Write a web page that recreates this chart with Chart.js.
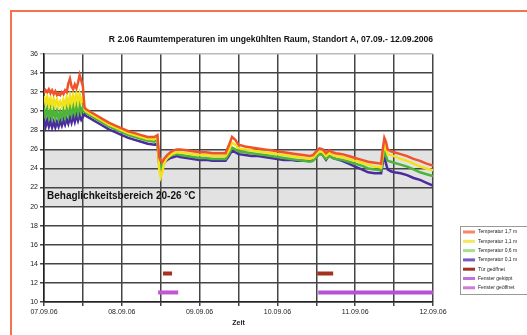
<!DOCTYPE html>
<html>
<head>
<meta charset="utf-8">
<title>Raumtemperaturen</title>
<style>
  html, body { margin: 0; padding: 0; background: #fff; overflow: hidden; }
  #frame { position: absolute; left: 10px; top: 10px; width: 560px; height: 400px;
           border-left: 2px solid #f3744a; border-top: 2px solid #f3744a; }
  #wrap { position: absolute; left: 0; top: 0; width: 527px; height: 335px; }
</style>
</head>
<body>
<div id="frame"></div>
<div id="wrap"><canvas id="myChart" width="527" height="335"></canvas></div>
<script src="https://cdn.jsdelivr.net/npm/chart.js@4.4.0/dist/chart.umd.min.js"></script>
<script>
const chartTitle = 'R 2.06 Raumtemperaturen im ungekühlten Raum, Standort A, 07.09.- 12.09.2006';
const xTickLabels = ['07.09.06', '08.09.06', '09.09.06', '10.09.06', '11.09.06', '12.09.06'];
const comfortLabel = 'Behaglichkeitsbereich 20-26 °C';
const comfortRange = [20, 26];

// hours since 07.09.06 00:00
const hours = [
  0, 0.5, 1, 1.5, 2, 2.5, 3, 3.5, 4, 4.5, 5, 5.5, 6, 6.5, 7, 7.5, 8, 8.5, 9, 9.5, 10, 10.5, 11, 11.5, 12,
  12.5, 13, 14, 16, 18, 20, 22, 24, 26, 28, 30, 32, 34, 35,
  35.5, 36, 36.5, 37, 38, 39, 40, 41,
  42, 44, 46, 48, 50, 52, 54, 56, 57, 58, 59, 60, 62,
  64, 66, 68, 70, 72, 74, 76, 78, 80, 82, 83,
  84, 85, 86, 87, 88, 89, 90,
  92, 94, 96, 98, 100, 102, 104,
  104.5, 105, 105.5, 106, 107, 108,
  110, 112, 114, 116, 118, 120
];

const temp17 = [
  31.9, 32.2, 32.0, 32.3, 31.9, 32.2, 31.8, 32.1, 31.7, 31.9, 31.7, 32.0, 31.8, 32.2, 32.0, 32.9, 33.4, 32.6, 32.3, 32.8, 32.4, 33.0, 33.8, 33.2, 32.6,
  30.4, 30.2, 30.0, 29.6, 29.2, 28.8, 28.5, 28.2, 27.9, 27.7, 27.5, 27.3, 27.3, 27.5,
  25.2, 24.8, 24.7, 25.0, 25.4, 25.7, 25.9, 26.0,
  26.0, 25.9, 25.8, 25.7, 25.7, 25.6, 25.6, 25.6, 26.4, 27.3, 27.0, 26.5, 26.3,
  26.2, 26.1, 26.0, 25.9, 25.8, 25.7, 25.6, 25.5, 25.4, 25.3, 25.4,
  25.8, 26.1, 26.0, 25.6, 25.9, 25.7, 25.6,
  25.5, 25.3, 25.1, 24.9, 24.7, 24.6, 24.5,
  26.0, 27.2, 26.8, 26.0, 25.8, 25.7,
  25.5, 25.3, 25.0, 24.8, 24.5, 24.3
];
const temp11 = [
  31.6, 30.8, 31.5, 30.7, 31.4, 30.6, 31.3, 30.6, 31.2, 30.5, 31.0, 30.5, 31.2, 30.6, 31.4, 30.7, 31.6, 30.8, 31.7, 30.9, 31.8, 30.9, 31.8, 31.0, 31.5,
  30.2, 30.0, 29.8, 29.4, 29.0, 28.6, 28.3, 28.0, 27.7, 27.5, 27.3, 27.1, 27.1, 27.3,
  24.0, 23.1, 23.6, 24.5, 25.1, 25.4, 25.6, 25.7,
  25.7, 25.6, 25.5, 25.4, 25.4, 25.3, 25.3, 25.3, 25.9, 26.7, 26.5, 26.1, 26.0,
  25.9, 25.8, 25.7, 25.6, 25.5, 25.4, 25.3, 25.2, 25.1, 25.0, 25.1,
  25.5, 25.8, 25.7, 25.3, 25.6, 25.4, 25.3,
  25.2, 25.0, 24.8, 24.6, 24.4, 24.2, 24.1,
  25.5, 26.5, 26.0, 25.5, 25.4, 25.3,
  25.0, 24.8, 24.5, 24.2, 24.0, 23.8
];
const temp06 = [
  30.4, 29.5, 30.3, 29.4, 30.2, 29.3, 30.1, 29.3, 30.0, 29.2, 29.9, 29.3, 30.1, 29.4, 30.3, 29.6, 30.5, 29.7, 30.6, 29.8, 30.6, 29.8, 30.7, 29.9, 30.4,
  30.0, 29.8, 29.6, 29.2, 28.8, 28.4, 28.1, 27.8, 27.5, 27.3, 27.1, 26.9, 26.8, 27.0,
  24.6, 24.0, 24.3, 24.7, 25.1, 25.3, 25.5, 25.5,
  25.4, 25.3, 25.2, 25.1, 25.1, 25.0, 25.0, 25.0, 25.5, 26.2, 26.0, 25.8, 25.7,
  25.6, 25.5, 25.4, 25.3, 25.2, 25.1, 25.0, 24.9, 24.8, 24.7, 24.8,
  25.2, 25.5, 25.4, 25.0, 25.3, 25.1, 25.0,
  24.9, 24.7, 24.5, 24.3, 24.0, 23.9, 23.8,
  25.0, 25.9, 25.3, 24.8, 24.7, 24.6,
  24.4, 24.2, 23.9, 23.6, 23.4, 23.2
];
const temp01 = [
  29.2, 28.4, 29.1, 28.4, 29.0, 28.3, 28.9, 28.3, 28.9, 28.4, 29.0, 28.5, 29.1, 28.6, 29.2, 28.7, 29.4, 28.8, 29.5, 28.9, 29.6, 29.0, 29.6, 29.1, 29.4,
  29.7, 29.5, 29.3, 28.9, 28.5, 28.1, 27.8, 27.5, 27.2, 27.0, 26.8, 26.6, 26.5, 26.6,
  24.6, 24.1, 24.3, 24.6, 24.9, 25.1, 25.2, 25.3,
  25.2, 25.1, 25.0, 24.9, 24.9, 24.8, 24.8, 24.8, 25.3, 25.9, 25.7, 25.5, 25.4,
  25.3, 25.3, 25.2, 25.1, 25.0, 24.9, 24.9, 24.8, 24.8, 24.8, 24.9,
  25.2, 25.6, 25.4, 24.9, 25.4, 25.1, 25.0,
  24.8, 24.5, 24.2, 23.9, 23.6, 23.5, 23.5,
  24.6, 25.4, 24.5, 23.9, 23.7, 23.6,
  23.5, 23.3, 23.0, 22.8, 22.5, 22.2
];

// status markers: [from hour, to hour], drawn at a fixed level
const tuerOffen = [[36.7, 39.5], [84.3, 89.2]];
const fensterGekippt = [[84.6, 120]];
const fensterOffen = [[35.2, 41.4]];
const tuerLevel = 13;
const fensterLevel = 11;

function series(vals) {
  return hours.map((h, i) => ({ x: h, y: vals[i] }));
}
function spans(list, level) {
  const out = [];
  list.forEach((s, i) => {
    if (i) out.push({ x: (list[i - 1][1] + s[0]) / 2, y: null });
    out.push({ x: s[0], y: level }, { x: s[1], y: level });
  });
  return out;
}

const FONT = '"Liberation Sans", Arial, sans-serif';

const extras = {
  id: 'extras',
  beforeDraw(chart) {
    const { ctx, chartArea: a, scales: { y } } = chart;
    const top = y.getPixelForValue(comfortRange[1]);
    const bot = y.getPixelForValue(comfortRange[0]);
    ctx.save();
    ctx.fillStyle = '#e2e2e2';
    ctx.fillRect(a.left, top, a.right - a.left, bot - top);
    ctx.restore();
  },
  afterDraw(chart) {
    const { ctx, chartArea: a, scales: { y } } = chart;
    ctx.save();
    // title
    ctx.fillStyle = '#111';
    ctx.font = 'bold 8.6px ' + FONT;
    ctx.textAlign = 'center';
    ctx.textBaseline = 'middle';
    ctx.fillText(chartTitle, 271, 40);
    // comfort label
    ctx.font = 'bold 10px ' + FONT;
    ctx.textAlign = 'left';
    ctx.fillText(comfortLabel, a.left + 3, y.getPixelForValue(21.1));
    // legend
    const lx = 460, ly = 226;
    ctx.fillStyle = '#fff';
    ctx.fillRect(lx, ly, 90, 68);
    ctx.strokeStyle = '#999';
    ctx.lineWidth = 1;
    ctx.strokeRect(lx + 0.5, ly + 0.5, 90, 68);
    ctx.font = '5px ' + FONT;
    chart.data.datasets.forEach((ds, i) => {
      const ry = ly + 6 + i * 9.3;
      ctx.strokeStyle = ds.legendColor || ds.borderColor;
      ctx.lineWidth = 3;
      ctx.beginPath();
      ctx.moveTo(lx + 3, ry);
      ctx.lineTo(lx + 15, ry);
      ctx.stroke();
      ctx.fillStyle = '#222';
      ctx.fillText(ds.label, lx + 18, ry);
    });
    ctx.restore();
  }
};

const ctx = document.getElementById('myChart').getContext('2d');
const chart = new Chart(ctx, {
  type: 'line',
  data: {
    datasets: [
      { label: 'Temperatur 1,7 m', data: series(temp17), borderColor: '#f0522a', legendColor: '#f4886a', borderWidth: 2.5 },
      { label: 'Temperatur 1,1 m', data: series(temp11), borderColor: '#f2e21a', legendColor: '#f4e85a', borderWidth: 2.5 },
      { label: 'Temperatur 0,6 m', data: series(temp06), borderColor: '#4db43a', legendColor: '#a6e08a', borderWidth: 2.5 },
      { label: 'Temperatur 0,1 m', data: series(temp01), borderColor: '#4a2c9e', legendColor: '#7a58c8', borderWidth: 2.5 },
      { label: 'Tür geöffnet', data: spans(tuerOffen, tuerLevel), borderColor: '#a3321f', borderWidth: 4, borderCapStyle: 'butt' },
      { label: 'Fenster gekippt', data: spans(fensterGekippt, fensterLevel), borderColor: '#b652d6', legendColor: '#c070e0', borderWidth: 4, borderCapStyle: 'butt' },
      { label: 'Fenster geöffnet', data: spans(fensterOffen, fensterLevel), borderColor: '#c455d2', legendColor: '#d27ad8', borderWidth: 4, borderCapStyle: 'butt' }
    ]
  },
  options: {
    responsive: false,
    animation: false,
    spanGaps: false,
    elements: { point: { radius: 0 }, line: { tension: 0 } },
    layout: { padding: { left: 14, right: 94, top: 54, bottom: 0 } },
    plugins: { legend: { display: false }, title: { display: false }, tooltip: { enabled: false } },
    scales: {
      x: {
        type: 'linear',
        min: 0,
        max: 120,
        afterFit(s) { s.height = 33; },
        ticks: {
          stepSize: 12,
          autoSkip: false,
          maxRotation: 0,
          padding: 2,
          color: '#222',
          font: { size: 7, family: FONT },
          callback: (v) => (v % 24 === 0 ? xTickLabels[v / 24] : '')
        },
        grid: { color: '#444', lineWidth: 1.5, tickLength: 4 },
        border: { color: '#222', width: 1.5 },
        title: { display: true, text: 'Zeit', color: '#222', font: { size: 7, weight: 'bold', family: FONT }, padding: { top: 0, bottom: 8 } }
      },
      y: {
        min: 10,
        max: 36,
        afterFit(s) { s.width = 30; },
        ticks: { stepSize: 2, padding: 2, color: '#222', font: { size: 7, family: FONT } },
        grid: { color: (c) => (c.tick && c.tick.value === 36 ? '#bbb' : '#444'), lineWidth: 1.5, tickLength: 4 },
        border: { color: '#222', width: 1.5 }
      }
    }
  },
  plugins: [extras]
});
</script>
</body>
</html>
